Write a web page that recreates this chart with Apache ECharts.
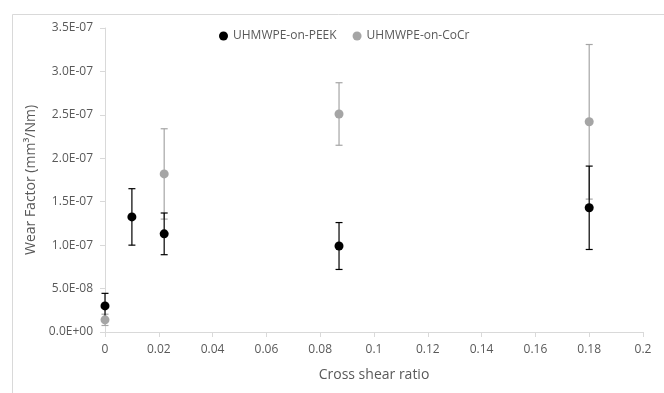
<!DOCTYPE html>
<html>
<head>
<meta charset="utf-8">
<script src="https://cdn.jsdelivr.net/npm/echarts@6/dist/echarts.min.js"></script>
<style>
html,body{margin:0;padding:0;background:#fff;}
#chart{width:664px;height:393px;}
</style>
</head>
<body>
<div id="chart"></div>
<script>
// Data
var seriesNames = ['UHMWPE-on-PEEK', 'UHMWPE-on-CoCr'];
var peekX   = [0, 0.01, 0.022, 0.087, 0.18];
var peekY   = [3.0e-8, 1.325e-7, 1.13e-7, 0.99e-7, 1.43e-7];
var peekErr = [1.45e-8, 0.325e-7, 0.24e-7, 0.27e-7, 0.48e-7];
var cocrX   = [0, 0.022, 0.087, 0.18];
var cocrY   = [1.4e-8, 1.82e-7, 2.51e-7, 2.42e-7];
var cocrErr = [0.65e-8, 0.52e-7, 0.36e-7, 0.89e-7];
var xTicks = {min: 0, max: 0.2, interval: 0.02};
var yTicks = {min: 0, max: 3.5e-7, interval: 5e-8};

function pts(xs, ys) { return xs.map(function (x, i) { return [x, ys[i]]; }); }
function errs(xs, ys, es) { return xs.map(function (x, i) { return [x, ys[i] - es[i], ys[i] + es[i]]; }); }

function errRender(color) {
  return function (params, api) {
    var lo = api.coord([api.value(0), api.value(1)]);
    var hi = api.coord([api.value(0), api.value(2)]);
    var w = 3.5;
    var st = {stroke: color, lineWidth: 1.2};
    return {
      type: 'group',
      children: [
        {type: 'line', shape: {x1: lo[0], y1: lo[1], x2: hi[0], y2: hi[1]}, style: st},
        {type: 'line', shape: {x1: lo[0] - w, y1: lo[1], x2: lo[0] + w, y2: lo[1]}, style: st},
        {type: 'line', shape: {x1: hi[0] - w, y1: hi[1], x2: hi[0] + w, y2: hi[1]}, style: st}
      ]
    };
  };
}

function fmtE(v) {
  if (v === 0) return '0.0E+00';
  var s = v.toExponential(1);
  var parts = s.split('e');
  var exp = parseInt(parts[1], 10);
  var sign = exp < 0 ? '-' : '+';
  var a = Math.abs(exp);
  return parts[0] + 'E' + sign + (a < 10 ? '0' + a : '' + a);
}

var FONT = 'Open Sans';
var TXT = '#595959';
var AX = '#D9D9D9';

var chart = echarts.init(document.getElementById('chart'), null, {renderer: 'canvas'});
chart.setOption({
  backgroundColor: '#ffffff',
  animation: false,
  textStyle: {fontFamily: FONT},
  graphic: [{
    type: 'rect', left: 10, top: 12, z: -10,
    shape: {width: 700, height: 400},
    style: {fill: 'none', stroke: AX, lineWidth: 1}
  }],
  grid: {left: 105, right: 21, top: 28, bottom: 61},
  legend: {
    data: seriesNames,
    left: 214, top: 25,
    icon: 'circle', itemWidth: 9, itemHeight: 9, itemGap: 16,
    textStyle: {color: TXT, fontSize: 12, fontFamily: FONT}
  },
  xAxis: {
    type: 'value', min: xTicks.min, max: xTicks.max, interval: xTicks.interval,
    name: 'Cross shear ratio', nameLocation: 'middle', nameGap: 36,
    nameTextStyle: {color: TXT, fontSize: 14, fontFamily: FONT},
    axisLine: {show: true, lineStyle: {color: AX, width: 1}},
    axisTick: {show: true, length: 5, lineStyle: {color: AX}},
    splitLine: {show: false},
    axisLabel: {color: TXT, fontSize: 12, margin: 12, fontFamily: FONT}
  },
  yAxis: {
    type: 'value', min: yTicks.min, max: yTicks.max, interval: yTicks.interval,
    name: 'Wear Factor (mm³/Nm)', nameLocation: 'middle', nameGap: 56,
    nameTextStyle: {color: TXT, fontSize: 14, fontFamily: FONT},
    axisLine: {show: true, lineStyle: {color: AX, width: 1}},
    axisTick: {show: true, length: 5, lineStyle: {color: AX}},
    splitLine: {show: false},
    axisLabel: {color: TXT, fontSize: 12, margin: 12, fontFamily: FONT, formatter: fmtE}
  },
  series: [
    {
      type: 'custom', renderItem: errRender('#A5A5A5'),
      data: errs(cocrX, cocrY, cocrErr), z: 2, silent: true,
      encode: {x: 0, y: [1, 2]}
    },
    {
      type: 'custom', renderItem: errRender('#000000'),
      data: errs(peekX, peekY, peekErr), z: 3, silent: true,
      encode: {x: 0, y: [1, 2]}
    },
    {
      name: seriesNames[1], type: 'scatter', data: pts(cocrX, cocrY),
      symbol: 'circle', symbolSize: 9, z: 4,
      itemStyle: {color: '#A5A5A5', opacity: 1}
    },
    {
      name: seriesNames[0], type: 'scatter', data: pts(peekX, peekY),
      symbol: 'circle', symbolSize: 9, z: 5,
      itemStyle: {color: '#000000', opacity: 1}
    }
  ]
});
</script>
</body>
</html>
